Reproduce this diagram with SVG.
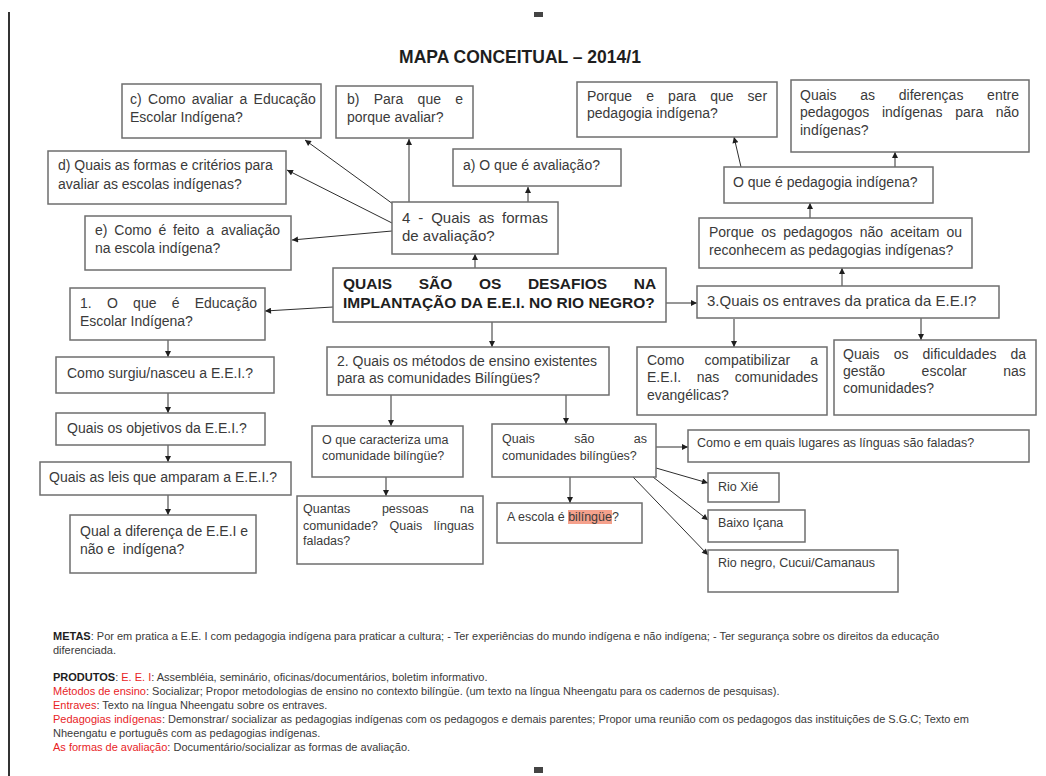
<svg xmlns="http://www.w3.org/2000/svg" width="1046" height="776" viewBox="0 0 1046 776">
  <style>
    .box { fill: #ffffff; stroke: #6e6e6e; stroke-width: 1.5; }
    .t { font-family: "Liberation Sans", Arial, sans-serif; font-size: 14px; fill: #3a3a3a; white-space: pre; }
    .s { font-size: 12.5px; }
    .m { font-size: 15px; }
    .bold { font-weight: bold; fill: #1e1e1e; }
    .end { text-anchor: end; }
    .c { stroke: #2e2e2e; stroke-width: 1; fill: none; marker-end: url(#ah); }
    .note { font-family: "Liberation Sans", Arial, sans-serif; font-size: 11px; fill: #3a3a3a; }
    .red { fill: #e8231f; }
    .hl { fill: #f5a18c; }
  </style>
  <defs>
    <marker id="ah" viewBox="0 0 10 10" refX="10" refY="5" markerWidth="7" markerHeight="6" markerUnits="userSpaceOnUse" orient="auto">
      <path d="M0,0 L10,5 L0,10 z" fill="#1e1e1e"/>
    </marker>
  </defs>

  <rect width="1046" height="776" fill="#ffffff"/>

  <!-- page frame marks -->
  <g id="page">
    <line x1="9" y1="12" x2="9" y2="776" stroke="#333333" stroke-width="2"/>
    <rect x="534" y="12" width="9" height="5" fill="#444444"/>
    <rect x="534" y="767" width="9" height="6" fill="#444444"/>
  </g>

  <g id="title">
    <text x="520" y="63" text-anchor="middle" class="t bold" style="font-size:17.5px">MAPA CONCEITUAL – 2014/1</text>
  </g>

  <!-- connectors -->
  <g id="connectors">
    <line class="c" x1="475" y1="268" x2="475" y2="254"/>
    <line class="c" x1="528" y1="202" x2="528" y2="187"/>
    <line class="c" x1="409" y1="202" x2="409" y2="139"/>
    <line class="c" x1="393" y1="204" x2="305" y2="140"/>
    <line class="c" x1="392" y1="223" x2="287" y2="170"/>
    <line class="c" x1="392" y1="231" x2="292" y2="240"/>
    <line class="c" x1="333" y1="307" x2="265" y2="311"/>
    <line class="c" x1="168" y1="340" x2="168" y2="357"/>
    <line class="c" x1="168" y1="393" x2="168" y2="413"/>
    <line class="c" x1="168" y1="445" x2="168" y2="462"/>
    <line class="c" x1="168" y1="495" x2="168" y2="515"/>
    <line class="c" x1="492" y1="322" x2="492" y2="347"/>
    <line class="c" x1="391" y1="395" x2="391" y2="426"/>
    <line class="c" x1="566" y1="395" x2="566" y2="424"/>
    <line class="c" x1="386" y1="477" x2="386" y2="496"/>
    <line class="c" x1="570" y1="469" x2="570" y2="503"/>
    <line class="c" x1="656" y1="447" x2="688" y2="447"/>
    <line class="c" x1="656" y1="468" x2="708" y2="483"/>
    <line class="c" x1="653" y1="477" x2="708" y2="520"/>
    <line class="c" x1="633" y1="477" x2="708" y2="555"/>
    <line class="c" x1="666" y1="303" x2="697" y2="303"/>
    <line class="c" x1="842" y1="286" x2="842" y2="268"/>
    <line class="c" x1="734" y1="319" x2="734" y2="347"/>
    <line class="c" x1="921" y1="318" x2="921" y2="340"/>
    <line class="c" x1="810" y1="218" x2="810" y2="203"/>
    <line class="c" x1="741" y1="167" x2="734" y2="137"/>
    <line class="c" x1="895" y1="167" x2="895" y2="152"/>
  </g>

  <!-- evaluation branch (justified lines are set word by word) -->
  <g id="n-c">
    <rect class="box" x="122" y="84" width="199" height="54"/>
    <text class="t" y="104"><tspan x="130">c)</tspan><tspan x="148.1">Como</tspan><tspan x="191.8">avaliar</tspan><tspan x="239.4">a</tspan><tspan x="253.6">Educação</tspan></text>
    <text class="t" x="130" y="122">Escolar Indígena?</text>
  </g>
  <g id="n-b">
    <rect class="box" x="336" y="86" width="137" height="52"/>
    <text class="t" y="104"><tspan x="347">b)</tspan><tspan x="373.7">Para</tspan><tspan x="417.6">que</tspan><tspan x="455.2">e</tspan></text>
    <text class="t" x="347" y="122">porque avaliar?</text>
  </g>
  <g id="n-a">
    <rect class="box" x="453" y="149" width="168" height="37"/>
    <text class="t" x="463" y="170">a) O que é avaliação?</text>
  </g>
  <g id="n-4">
    <rect class="box" x="392" y="202" width="166" height="52"/>
    <text class="t m" y="223"><tspan x="402">4</tspan><tspan x="418.3">-</tspan><tspan x="431.2">Quais</tspan><tspan x="478.4">as</tspan><tspan x="502.1">formas</tspan></text>
    <text class="t m" x="402" y="241">de avaliação?</text>
  </g>
  <g id="n-d">
    <rect class="box" x="48" y="151" width="238" height="53"/>
    <text class="t" x="58" y="170">d) Quais as formas e critérios para</text>
    <text class="t" x="58" y="189">avaliar as escolas indígenas?</text>
  </g>
  <g id="n-e">
    <rect class="box" x="85" y="216" width="206" height="54"/>
    <text class="t" y="235"><tspan x="95">e)</tspan><tspan x="114.3">Como</tspan><tspan x="158.4">é</tspan><tspan x="173">feito</tspan><tspan x="206.3">a</tspan><tspan x="220.9">avaliação</tspan></text>
    <text class="t" x="95" y="253">na escola indígena?</text>
  </g>

  <!-- pedagogy branch -->
  <g id="n-pq">
    <rect class="box" x="577" y="82" width="200" height="55"/>
    <text class="t" y="101"><tspan x="587">Porque</tspan><tspan x="646.2">e</tspan><tspan x="668.1">para</tspan><tspan x="710.2">que</tspan><tspan x="747.6">ser</tspan></text>
    <text class="t" x="587" y="118">pedagogia indígena?</text>
  </g>
  <g id="n-dif">
    <rect class="box" x="791" y="80" width="238" height="72"/>
    <text class="t" y="100"><tspan x="800">Quais</tspan><tspan x="860.3">as</tspan><tspan x="898.8">diferenças</tspan><tspan x="987.1">entre</tspan></text>
    <text class="t" y="117"><tspan x="800">pedagogos</tspan><tspan x="881.9">indígenas</tspan><tspan x="955.2">para</tspan><tspan x="995.8">não</tspan></text>
    <text class="t" x="800" y="135">indígenas?</text>
  </g>
  <g id="n-oqp">
    <rect class="box" x="724" y="167" width="209" height="36"/>
    <text class="t" x="733" y="187">O que é pedagogia indígena?</text>
  </g>
  <g id="n-pqn">
    <rect class="box" x="699" y="218" width="273" height="50"/>
    <text class="t" y="237"><tspan x="709">Porque</tspan><tspan x="761.3">os</tspan><tspan x="783.3">pedagogos</tspan><tspan x="859.8">não</tspan><tspan x="890.3">aceitam</tspan><tspan x="946.5">ou</tspan></text>
    <text class="t" x="709" y="255">reconhecem as pedagogias indígenas?</text>
  </g>

  <!-- central question -->
  <g id="n-main">
    <rect class="box" x="333" y="268" width="333" height="54"/>
    <text class="t bold" style="font-size:15.5px" y="289"><tspan x="343">QUAIS</tspan><tspan x="418.7">SÃO</tspan><tspan x="478.9">OS</tspan><tspan x="527.9">DESAFIOS</tspan><tspan x="633.7">NA</tspan></text>
    <text class="t bold" style="font-size:15.5px" x="343" y="308">IMPLANTAÇÃO DA E.E.I. NO RIO NEGRO?</text>
  </g>

  <!-- branch 1 -->
  <g id="n-1">
    <rect class="box" x="70" y="288" width="195" height="52"/>
    <text class="t" y="308"><tspan x="80">1.</tspan><tspan x="106.9">O</tspan><tspan x="133.1">que</tspan><tspan x="171.7">é</tspan><tspan x="194.7">Educação</tspan></text>
    <text class="t" x="80" y="326">Escolar Indígena?</text>
  </g>
  <g id="n-surg">
    <rect class="box" x="56" y="357" width="218" height="36"/>
    <text class="t" x="67" y="378">Como surgiu/nasceu a E.E.I.?</text>
  </g>
  <g id="n-obj">
    <rect class="box" x="56" y="413" width="209" height="32"/>
    <text class="t" x="67" y="433">Quais os objetivos da E.E.I.?</text>
  </g>
  <g id="n-leis">
    <rect class="box" x="40" y="462" width="251" height="33"/>
    <text class="t" x="49" y="482">Quais as leis que amparam a E.E.I.?</text>
  </g>
  <g id="n-qual">
    <rect class="box" x="70" y="515" width="186" height="58"/>
    <text class="t" x="80" y="536">Qual a diferença de E.E.I e</text>
    <text class="t" x="80" y="554">não e  indígena?</text>
  </g>

  <!-- branch 2 -->
  <g id="n-2">
    <rect class="box" x="327" y="347" width="282" height="48"/>
    <text class="t" x="337" y="366">2. Quais os métodos de ensino existentes</text>
    <text class="t" x="337" y="383">para as comunidades Bilíngües?</text>
  </g>
  <g id="n-car">
    <rect class="box" x="312" y="426" width="151" height="51"/>
    <text class="t s" x="322" y="444">O que caracteriza uma</text>
    <text class="t s" x="322" y="460">comunidade bilíngüe?</text>
  </g>
  <g id="n-com">
    <rect class="box" x="492" y="424" width="164" height="53"/>
    <text class="t s" y="443"><tspan x="502">Quais</tspan><tspan x="574.2">são</tspan><tspan x="633.8">as</tspan></text>
    <text class="t s" x="502" y="460">comunidades bilíngües?</text>
  </g>
  <g id="n-qnt">
    <rect class="box" x="297" y="496" width="186" height="68"/>
    <text class="t s" y="513"><tspan x="303">Quantas</tspan><tspan x="381.9">pessoas</tspan><tspan x="460.1">na</tspan></text>
    <text class="t s" y="530"><tspan x="303">comunidade?</tspan><tspan x="389.5">Quais</tspan><tspan x="433.7">línguas</tspan></text>
    <text class="t s" x="303" y="545">faladas?</text>
  </g>
  <g id="n-esc">
    <rect class="box" x="497" y="503" width="145" height="40"/>
    <rect class="hl" x="568" y="510" width="44" height="14"/>
    <text class="t s" x="507" y="521">A escola é bilíngüe?</text>
  </g>
  <g id="n-lug">
    <rect class="box" x="688" y="430" width="341" height="32"/>
    <text class="t s" x="697" y="447">Como e em quais lugares as línguas são faladas?</text>
  </g>
  <g id="n-xie">
    <rect class="box" x="708" y="473" width="71" height="29"/>
    <text class="t s" x="718" y="491">Rio Xié</text>
  </g>
  <g id="n-bai">
    <rect class="box" x="708" y="510" width="97" height="32"/>
    <text class="t s" x="718" y="527">Baixo Içana</text>
  </g>
  <g id="n-rne">
    <rect class="box" x="708" y="550" width="190" height="42"/>
    <text class="t s" x="718" y="567">Rio negro, Cucui/Camanaus</text>
  </g>

  <!-- branch 3 -->
  <g id="n-3">
    <rect class="box" x="697" y="286" width="302" height="32"/>
    <text class="t m" x="707" y="306">3.Quais os entraves da pratica da E.E.I?</text>
  </g>
  <g id="n-cmp">
    <rect class="box" x="637" y="347" width="190" height="68"/>
    <text class="t" y="365"><tspan x="647">Como</tspan><tspan x="704.5">compatibilizar</tspan><tspan x="810.3">a</tspan></text>
    <text class="t" y="382"><tspan x="647">E.E.I.</tspan><tspan x="696.7">nas</tspan><tspan x="734.8">comunidades</tspan></text>
    <text class="t" x="647" y="400">evangélicas?</text>
  </g>
  <g id="n-dfc">
    <rect class="box" x="834" y="340" width="202" height="75"/>
    <text class="t" y="359"><tspan x="843">Quais</tspan><tspan x="893.7">os</tspan><tspan x="922.5">dificuldades</tspan><tspan x="1010.5">da</tspan></text>
    <text class="t" y="376"><tspan x="843">gestão</tspan><tspan x="921.6">escolar</tspan><tspan x="1003.3">nas</tspan></text>
    <text class="t" x="843" y="393">comunidades?</text>
  </g>

  <!-- goals and products -->
  <g id="notes">
    <text class="note" x="53" y="640"><tspan class="bold">METAS</tspan>: Por em pratica a E.E. I com pedagogia indígena para praticar a cultura; - Ter experiências do mundo indígena e não indígena; - Ter segurança sobre os direitos da educação</text>
    <text class="note" x="53" y="654">diferenciada.</text>
    <text class="note" x="53" y="681"><tspan class="bold">PRODUTOS</tspan>: <tspan class="red">E. E. I</tspan>: Assembléia, seminário, oficinas/documentários, boletim informativo.</text>
    <text class="note" x="53" y="695"><tspan class="red">Métodos de ensino</tspan>: Socializar; Propor metodologias de ensino no contexto bilíngüe. (um texto na língua Nheengatu para os cadernos de pesquisas).</text>
    <text class="note" x="53" y="709"><tspan class="red">Entraves</tspan>: Texto na língua Nheengatu sobre os entraves.</text>
    <text class="note" x="53" y="723"><tspan class="red">Pedagogias indígenas</tspan>: Demonstrar/ socializar as pedagogias indígenas com os pedagogos e demais parentes; Propor uma reunião com os pedagogos das instituições de S.G.C; Texto em</text>
    <text class="note" x="53" y="737">Nheengatu e português com as pedagogias indígenas.</text>
    <text class="note" x="53" y="751"><tspan class="red">As formas de avaliação</tspan>: Documentário/socializar as formas de avaliação.</text>
  </g>
</svg>
